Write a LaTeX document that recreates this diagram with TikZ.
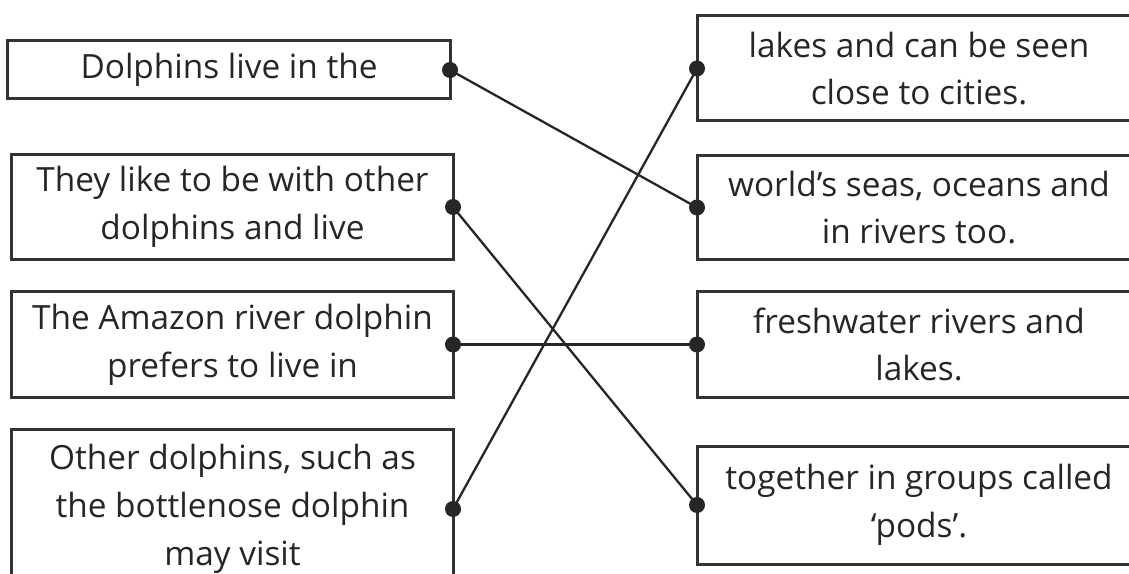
\documentclass[tikz,border=0pt]{standalone}
\usepackage{fontspec}
\setmainfont{Open Sans}
\definecolor{ink}{HTML}{262626}
\definecolor{edge}{HTML}{333333}
\begin{document}
\begin{tikzpicture}[x=1bp,y=-1bp,
  card/.style={draw=edge, line width=3bp, rectangle, inner sep=0pt, outer sep=0pt,
    minimum width=#1, align=center, text=ink,
    font=\fontsize{33.5}{48}\selectfont},
  link/.style={draw=ink, line width=2.3bp},
  dot/.style={fill=ink, circle, inner sep=0pt, minimum size=16bp}]
\useasboundingbox (0,0) rectangle (1129,574);
\clip (0,0) rectangle (1129,574);
\fill[white] (0,0) rectangle (1129,574);
% left
\node[card=442bp, minimum height=58bp] (L1) at (229,70) {Dolphins live in the};
\node[card=441bp, minimum height=104bp] (L2) at (232.5,207) {They like to be with other\\dolphins and live};
\node[card=441bp, minimum height=105bp] (L3) at (232.5,344.5) {The Amazon river dolphin\\prefers to live in};
\node[card=441bp, minimum height=160bp] (L4) at (232.5,509) {Other dolphins, such as\\the bottlenose dolphin\\may visit};
% right
\node[card=444bp, minimum height=105bp] (R1) at (919,68.5) {lakes and can be seen\\close to cities.};
\node[card=444bp, minimum height=103bp] (R2) at (919,207.5) {world’s seas, oceans and\\in rivers too.};
\node[card=444bp, minimum height=105bp] (R3) at (919,344.5) {freshwater rivers and\\lakes.};
\node[card=444bp, minimum height=118bp] (R4) at (919,505) {together in groups called\\‘pods’.};
% links
\draw[link] (L1.east) -- (R2.west);
\draw[link] (L2.east) -- (R4.west);
\draw[link] (L3.east) -- (R3.west);
\draw[link] (L4.east) -- (R1.west);
\foreach \n in {L1,L2,L3,L4}{\node[dot] at (\n.east) {};}
\foreach \n in {R1,R2,R3,R4}{\node[dot] at (\n.west) {};}
\end{tikzpicture}
\end{document}
